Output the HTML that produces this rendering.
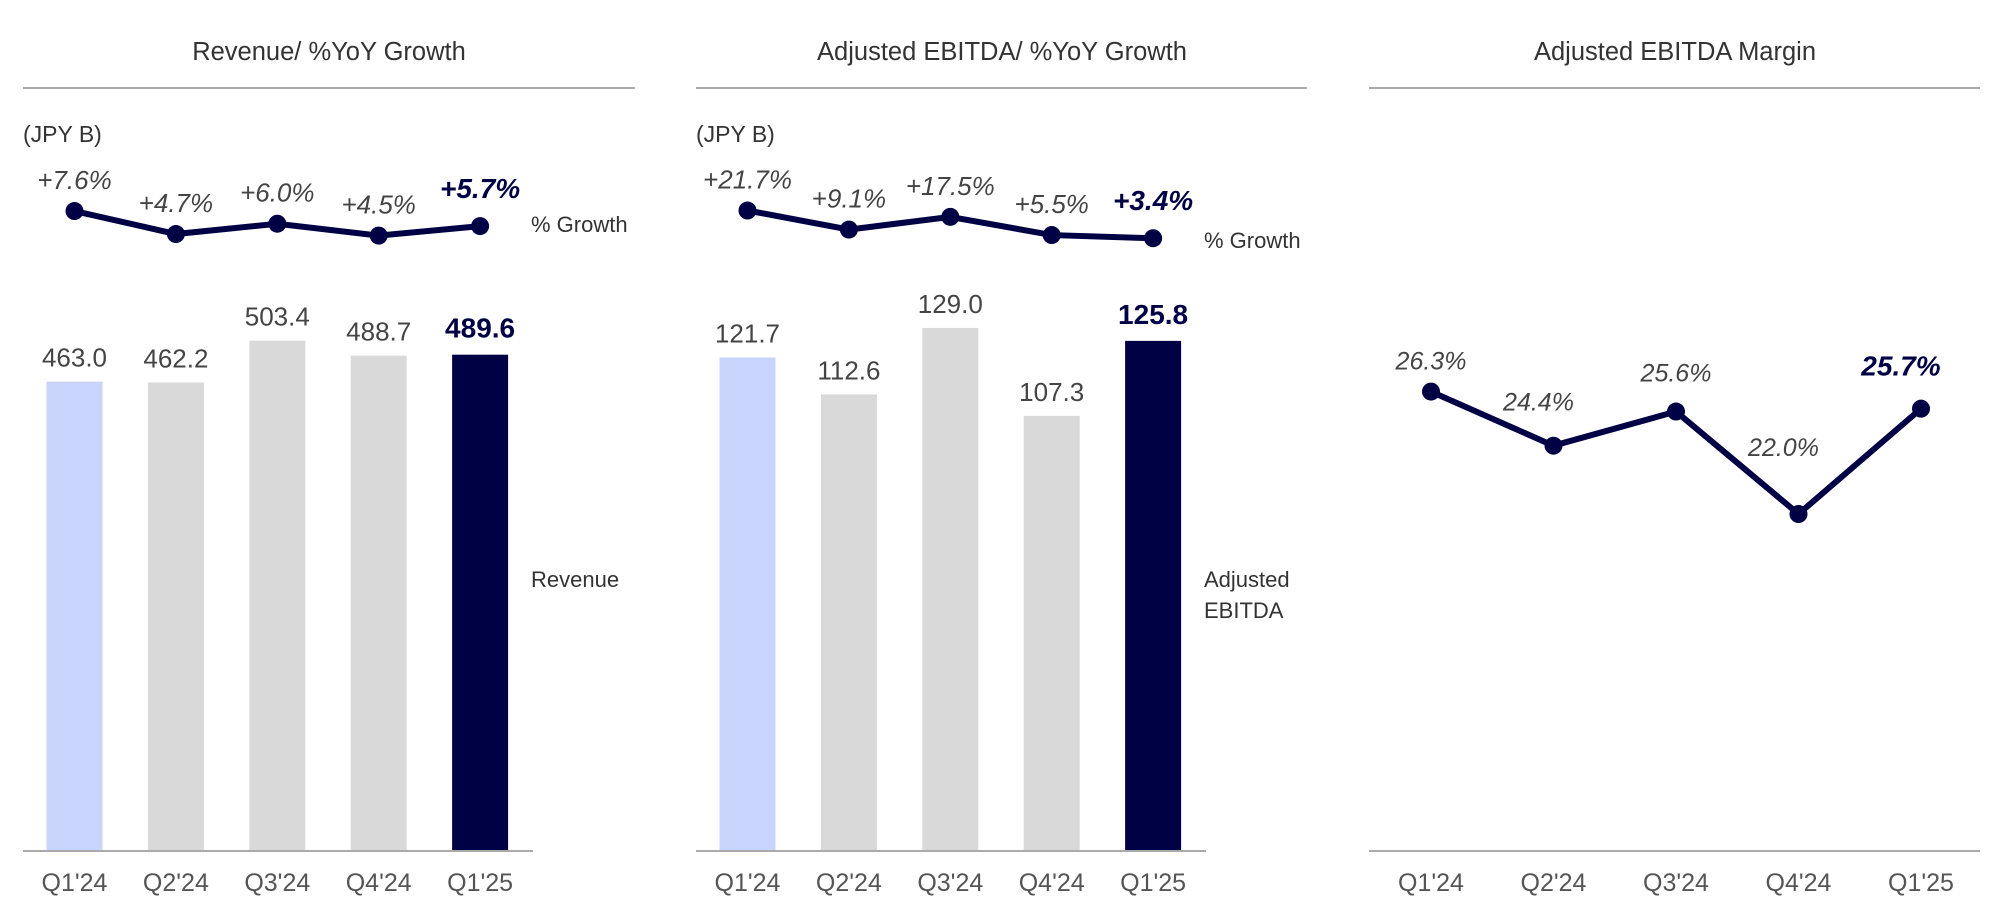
<!DOCTYPE html>
<html><head><meta charset="utf-8"><style>
html,body{margin:0;padding:0;background:#fff;width:2000px;height:921px;overflow:hidden}
svg{display:block;font-family:"Liberation Sans",sans-serif}
.n{font-family:"Liberation Sans Narrow","Liberation Sans",sans-serif}
</style></head><body>
<svg id="c" width="2000" height="921"></svg>
<script>
const categories=["Q1'24","Q2'24","Q3'24","Q4'24","Q1'25"];
const revenue=[463.0,462.2,503.4,488.7,489.6];
const revenueGrowth=[7.6,4.7,6.0,4.5,5.7];
const ebitda=[121.7,112.6,129.0,107.3,125.8];
const ebitdaGrowth=[21.7,9.1,17.5,5.5,3.4];
const margin=[26.3,24.4,25.6,22.0,25.7];
const NAVY="#000045",BLUE="#c8d4fb",GRAY="#d9d9d9",TXT="#444";
const svg=document.getElementById('c');
const NS="http://www.w3.org/2000/svg";
function el(tag,attrs,txt){const e=document.createElementNS(NS,tag);for(const k in attrs)e.setAttribute(k,attrs[k]);if(txt!==undefined)e.textContent=txt;svg.appendChild(e);return e;}
const BASE=851;
function title(x,t){const e=el('text',{x:x,y:60,'text-anchor':'middle','font-size':25.5,fill:'#333'},t);

}
function rule(x1,x2,y){const e=el('line',{x1:x1,x2:x2,y1:y,y2:y,stroke:'#aaa','stroke-width':2});

}
function barPanel(off,vals,growth,scale,gy0,gslope,narrow,nameP){
  const xc=i=>74.5+off+i*101.4;
  const yb=v=>BASE-v*scale;
  const yg=v=>gy0-v*gslope;
  const cls=narrow?'n':'';
  vals.forEach((v,i)=>{
    const r=el('rect',{x:xc(i)-28,y:yb(v),width:56,height:v*scale,fill:i==0?BLUE:(i==4?NAVY:GRAY)});
    
    
    const t=el('text',{x:xc(i),y:yb(v)-(i==4?17:15),'text-anchor':'middle','font-size':i==4?28:26,'font-weight':i==4?'bold':'normal',fill:i==4?NAVY:TXT,class:cls},v.toFixed(1));
    
    
    const c=el('text',{x:xc(i),y:891,'text-anchor':'middle','font-size':25,fill:'#555',class:cls},categories[i]);
    
    
  });
  const pts=growth.map((g,i)=>xc(i)+','+yg(g)).join(' ');
  const pl=el('polyline',{points:pts,fill:'none',stroke:NAVY,'stroke-width':6});
  
  
  growth.forEach((g,i)=>{
    const d=el('circle',{cx:xc(i),cy:yg(g),r:9,fill:NAVY});
    
    
    const t=el('text',{x:xc(i),y:yg(g)-(i==4?28:22),'text-anchor':'middle','font-size':i==4?28:26,'font-style':'italic','font-weight':i==4?'bold':'normal',fill:i==4?NAVY:TXT,class:cls},'+'+g.toFixed(1)+'%');
    
    
  });
  const ax=el('line',{x1:off+23,x2:off+533,y1:BASE,y2:BASE,stroke:'#aaa','stroke-width':2});
  
  
  const u=el('text',{x:off+23,y:142,'font-size':23,fill:'#333',class:cls},'(JPY B)');
  
  
}
title(329,'Revenue/ %YoY Growth');
title(1002,'Adjusted EBITDA/ %YoY Growth');
title(1675,'Adjusted EBITDA Margin');
rule(23,635,88);rule(696,1307,88);rule(1369,1980,88);
barPanel(0,revenue,revenueGrowth,1.0137,271.3,7.93,false,'revenue');
barPanel(673,ebitda,ebitdaGrowth,4.055,243.4,1.516,true,'ebitda');
let t;
t=el('text',{x:531,y:232,'font-size':22,fill:'#333'},'% Growth');


t=el('text',{x:531,y:587,'font-size':22,fill:'#333'},'Revenue');


t=el('text',{x:1204,y:248,'font-size':22,fill:'#333'},'% Growth');


t=el('text',{x:1204,y:587,'font-size':22,fill:'#333'},'Adjusted');


t=el('text',{x:1204,y:618,'font-size':22,fill:'#333'},'EBITDA');


// margin panel
const labelDy=[31,44,39,67,42];
const labelDx=[0,-15,0,-15,-20];
const mx=i=>1431+i*122.5;
const my=v=>391.6-(v-26.3)*28.47;
const ml=el('polyline',{points:margin.map((v,i)=>mx(i)+','+my(v)).join(' '),fill:'none',stroke:NAVY,'stroke-width':6});


margin.forEach((v,i)=>{
  const d=el('circle',{cx:mx(i),cy:my(v),r:9,fill:NAVY});
  
  
  const b=i==4;
  const l=el('text',{x:mx(i)+labelDx[i],y:my(v)-labelDy[i]+9,'text-anchor':'middle','font-size':b?28:25,'font-style':'italic','font-weight':b?'bold':'normal',fill:b?NAVY:TXT},v.toFixed(1)+'%');
  
  
  const c=el('text',{x:mx(i),y:891,'text-anchor':'middle','font-size':25,fill:'#555'},categories[i]);
  
  
});
const ax3=el('line',{x1:1369,x2:1980,y1:BASE,y2:BASE,stroke:'#aaa','stroke-width':2});


</script>
</body></html>
